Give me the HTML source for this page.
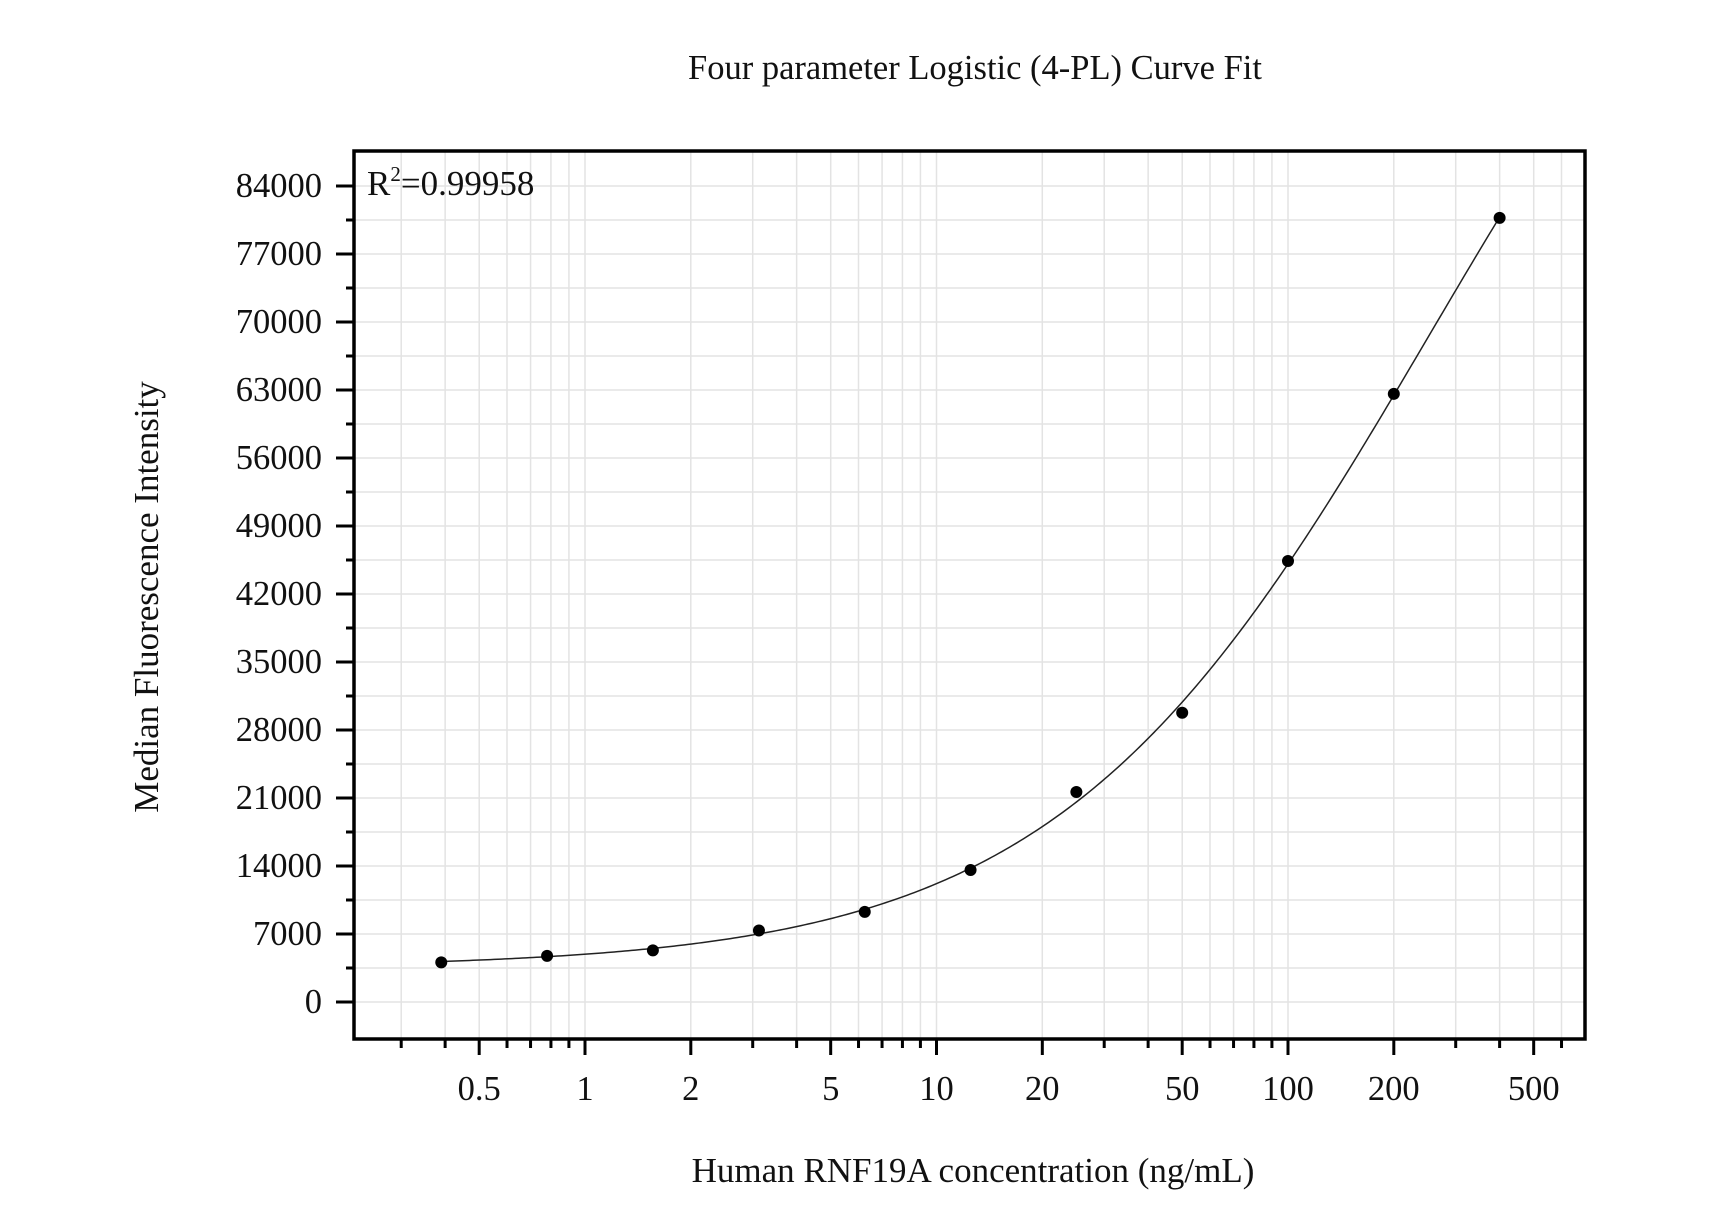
<!DOCTYPE html>
<html><head><meta charset="utf-8"><style>
html,body{margin:0;padding:0;background:#fff;}
svg text{font-family:"Liberation Serif",serif;fill:#111;}
</style></head><body>
<svg id="chart" width="1731" height="1222" viewBox="0 0 1731 1222" xmlns="http://www.w3.org/2000/svg">
<text x="975" y="79" font-size="34.5" text-anchor="middle">Four parameter Logistic (4-PL) Curve Fit</text>
<text x="973" y="1182" font-size="35" text-anchor="middle">Human RNF19A concentration (ng/mL)</text>
<text transform="translate(158,597) rotate(-90)" font-size="35" text-anchor="middle">Median Fluorescence Intensity</text>
<g id="grid"></g>
<g id="axes"></g>
<g id="series"></g>
<text x="367" y="195" font-size="35">R<tspan font-size="21" dy="-14">2</tspan><tspan dy="14">=0.99958</tspan></text>
</svg>
<script>
const concentrations=[0.39,0.78,1.56,3.125,6.25,12.5,25,50,100,200,400];
const mfiValues=[4080,4750,5320,7360,9280,13590,21620,29780,45400,62600,80720];
const yTickValues=[0,7000,14000,21000,28000,35000,42000,49000,56000,63000,70000,77000,84000];
const xTickLabels=[0.5,1,2,5,10,20,50,100,200,500];

const L=354,R=1585,T=151,B=1039;
const X0=585,DEC=351.5;
const xs=v=>X0+Math.log10(v)*DEC;
const Y0=1002,YPER=68/7000;
const ys=v=>Y0-v*YPER;
const NS="http://www.w3.org/2000/svg";
function mk(tag,parent,attrs){const e=document.createElementNS(NS,tag);for(const k in attrs)e.setAttribute(k,attrs[k]);parent.appendChild(e);return e;}
const grid=document.getElementById('grid'),axes=document.getElementById('axes'),series=document.getElementById('series');

const xMinor=[];
for(let d=-1;d<=2;d++)for(let m=1;m<=9;m++){const v=m*Math.pow(10,d);const px=xs(v);if(px>L+2&&px<R-1)xMinor.push({v,px,major:xTickLabels.includes(+v.toPrecision(3))});}
xMinor.forEach(t=>{
 const g=mk('line',grid,{x1:t.px,x2:t.px,y1:T,y2:B,stroke:'#e3e3e3','stroke-width':1.5});
 
 
 const tk=mk('line',axes,{x1:t.px,x2:t.px,y1:B,y2:B+(t.major?16:9),stroke:'#000','stroke-width':3});
 
 
});
xTickLabels.forEach(v=>{
 const t=mk('text',axes,{x:xs(v),y:1100,'font-size':34.5,'text-anchor':'middle'});
 t.textContent=String(v);
 
 
});
for(let v=0;v<=87500;v+=3500){
 const py=ys(v);if(py<T+2)continue;
 const major=v%7000===0;
 const g=mk('line',grid,{x1:L,x2:R,y1:py,y2:py,stroke:'#e3e3e3','stroke-width':1.5});
 
 
 const tk=mk('line',axes,{x1:L-(major?18:8),x2:L,y1:py,y2:py,stroke:'#000','stroke-width':3});
 
 
}
yTickValues.forEach(v=>{
 const t=mk('text',axes,{x:322,y:ys(v)+11,'font-size':34.5,'text-anchor':'end'});
 t.textContent=String(v);
 
 
});
const frame=mk('rect',axes,{x:L,y:T,width:R-L,height:B-T,fill:'none',stroke:'#000','stroke-width':3.5});



function f4(p,x){const[A,D,lc,b]=p;return D+(A-D)/(1+Math.pow(x/Math.exp(lc),b));}
function sse(p){let s=0;for(let i=0;i<concentrations.length;i++){const r=f4(p,concentrations[i])-mfiValues[i];s+=r*r;}return s;}
function nm(f,x0,steps,it){let S=[x0];for(let i=0;i<x0.length;i++){const p=x0.slice();p[i]+=steps[i];S.push(p);}
 let F=S.map(f);
 for(let k=0;k<it;k++){
  const idx=F.map((v,i)=>i).sort((a,b)=>F[a]-F[b]);S=idx.map(i=>S[i]);F=idx.map(i=>F[i]);
  const n=x0.length,c=new Array(n).fill(0);for(let i=0;i<n;i++)for(let j=0;j<n;j++)c[j]+=S[i][j]/n;
  const w=S[n];const xr=c.map((v,j)=>v+(v-w[j]));const fr=f(xr);
  if(fr<F[0]){const xe=c.map((v,j)=>v+2*(v-w[j]));const fe=f(xe);if(fe<fr){S[n]=xe;F[n]=fe;}else{S[n]=xr;F[n]=fr;}}
  else if(fr<F[n-1]){S[n]=xr;F[n]=fr;}
  else{const xc=c.map((v,j)=>v+0.5*(w[j]-v));const fc=f(xc);if(fc<F[n]){S[n]=xc;F[n]=fc;}
   else{for(let i=1;i<=n;i++){S[i]=S[i].map((v,j)=>S[0][j]+0.5*(v-S[0][j]));F[i]=f(S[i]);}}}
 }
 let bi=0;for(let i=1;i<F.length;i++)if(F[i]<F[bi])bi=i;return S[bi];}
let p=[4000,130000,Math.log(250),1.2];
for(let r=0;r<4;r++)p=nm(sse,p,[500,20000,0.5,0.2],3000);
let d='';
for(let i=0;i<=300;i++){const lx=Math.log10(concentrations[0])+(Math.log10(concentrations[concentrations.length-1])-Math.log10(concentrations[0]))*i/300;const x=Math.pow(10,lx);d+=(i?'L':'M')+xs(x).toFixed(2)+','+ys(f4(p,x)).toFixed(2);}
const curve=mk('path',series,{d:d,fill:'none',stroke:'#222','stroke-width':1.5});


concentrations.forEach((c,i)=>{
 const pt=mk('circle',series,{cx:xs(c),cy:ys(mfiValues[i]),r:6,fill:'#000'});
 
 
});
</script>
</body></html>
